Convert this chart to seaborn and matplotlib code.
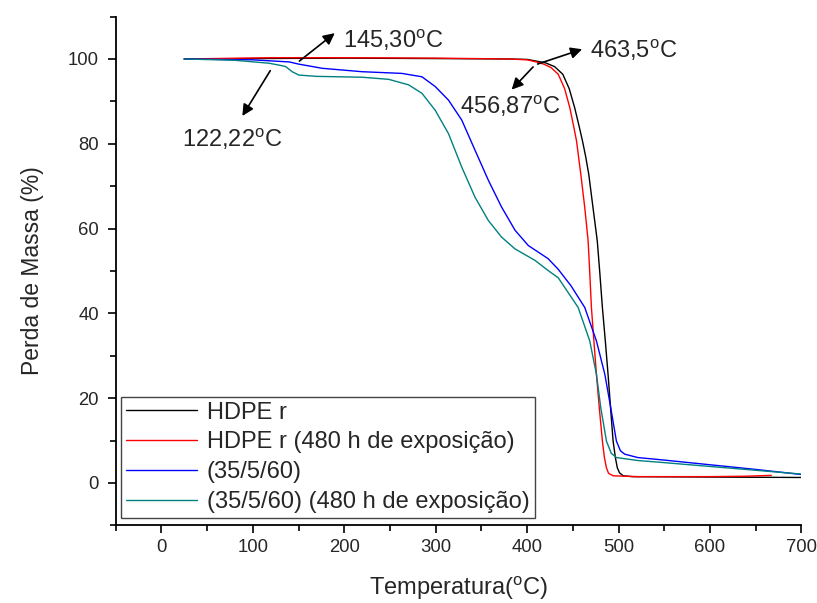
import numpy as np
import pandas as pd
import seaborn as sns
import matplotlib.pyplot as plt
from matplotlib.ticker import MultipleLocator

# TGA curves
temp_hdpe = [25, 100, 200, 300, 380, 400, 410, 420, 430, 439, 446, 452, 457, 460.5, 464, 467.4, 472, 476.7, 479.5, 482.3, 485.5, 488.5, 491.5, 494, 496.5, 498.6, 501, 505, 515, 600, 700]
mass_hdpe = [100.0, 100.1, 100.2, 100.1, 100.0, 99.9, 99.5, 99.1, 98.2, 96.4, 93.0, 88.5, 84.0, 80.7, 77.0, 72.8, 65.0, 57.1, 49.5, 41.4, 33.5, 25.6, 17.0, 9.9, 6.0, 3.6, 2.4, 1.7, 1.5, 1.4, 1.3]

temp_hdpe_exp = [25, 120, 200, 300, 380, 400, 410, 418, 426, 434, 441, 446.7, 451, 454, 458.7, 463, 466.7, 468.5, 470.3, 473, 475.8, 479, 482.3, 484.5, 486.7, 489, 494, 520, 600, 640, 667]
mass_hdpe_exp = [100.0, 100.3, 100.3, 100.2, 100.0, 99.8, 99.3, 98.8, 98.0, 96.4, 93.0, 88.5, 84.0, 80.7, 72.8, 65.0, 57.1, 49.5, 41.4, 33.5, 25.6, 17.5, 9.9, 6.0, 3.6, 2.3, 1.7, 1.5, 1.5, 1.6, 1.8]

temp_blend = [25, 100, 140, 150, 176, 219.5, 263, 285, 299.5, 314, 328.5, 343, 357.6, 372, 386.8, 401.3, 423, 434, 448, 463, 475.8, 485, 491.4, 497.6, 502, 506.7, 521, 550, 600, 650, 700]
mass_blend = [100.0, 99.8, 99.3, 98.8, 97.8, 97.0, 96.6, 95.8, 93.5, 90.3, 85.6, 78.5, 71.4, 65.1, 59.6, 56.0, 52.9, 50.4, 46.5, 41.4, 33.5, 25.6, 17.8, 9.9, 7.6, 6.8, 6.0, 5.4, 4.3, 3.2, 2.0]

temp_blend_exp = [25, 80, 117.8, 130, 136, 143, 150.5, 170, 219.5, 248.6, 270.4, 285, 299.5, 314, 328.5, 343, 357.6, 372, 386.8, 408.6, 423, 434, 455.8, 468.5, 475.8, 480.5, 486.7, 492, 497.6, 521, 550, 600, 650, 700]
mass_blend_exp = [100.0, 99.7, 99.0, 98.5, 98.2, 97.0, 96.2, 95.9, 95.7, 95.2, 93.9, 91.9, 87.9, 82.4, 74.5, 67.4, 61.9, 58.0, 55.2, 52.5, 50.1, 48.4, 41.4, 33.5, 25.6, 17.8, 9.9, 7.0, 6.0, 5.3, 4.8, 3.9, 3.0, 2.1]

labels = ['HDPE r', 'HDPE r (480 h de exposição)', '(35/5/60)', '(35/5/60) (480 h de exposição)']
colors = ['#000000', '#ff0000', '#0000ff', '#008080']

frames = []
for lab, t, m in zip(labels,
                     [temp_hdpe, temp_hdpe_exp, temp_blend, temp_blend_exp],
                     [mass_hdpe, mass_hdpe_exp, mass_blend, mass_blend_exp]):
    frames.append(pd.DataFrame({'temp': t, 'mass': m, 'amostra': lab}))
df = pd.concat(frames, ignore_index=True)

sns.set_style('ticks')
plt.rcParams['font.family'] = ['Liberation Sans', 'DejaVu Sans']
plt.rcParams['mathtext.fontset'] = 'custom'
plt.rcParams['mathtext.rm'] = 'Liberation Sans'

fig, ax = plt.subplots(figsize=(8.17, 6.03), dpi=100)
fig.subplots_adjust(left=0.1415, right=0.981, top=0.9725, bottom=0.1287)

sns.lineplot(data=df, x='temp', y='mass', hue='amostra', hue_order=labels,
             palette=colors, linewidth=1.0, sort=False, estimator=None, ax=ax)

ax.set_xlim(-50, 700)
ax.set_ylim(-10, 110)
ax.xaxis.set_major_locator(MultipleLocator(100))
ax.xaxis.set_minor_locator(MultipleLocator(50))
ax.yaxis.set_major_locator(MultipleLocator(20))
ax.yaxis.set_minor_locator(MultipleLocator(10))
ax.tick_params(which='major', direction='out', length=6, width=1.2, labelsize=13.3, color='black')
ax.tick_params(which='minor', direction='out', length=4, width=1.2, color='black')
ax.tick_params(axis='x', which='major', pad=4)
ax.tick_params(axis='y', which='major', pad=6)
sns.despine(ax=ax)
for s in ['left', 'bottom']:
    ax.spines[s].set_linewidth(1.3)
    ax.spines[s].set_color('black')

ax.set_xlabel(r'Temperatura($^{\mathrm{o}}$C)', fontsize=17, labelpad=13)
ax.set_ylabel('Perda de Massa (%)', fontsize=16.5, labelpad=17)

leg = ax.legend(loc='lower left', bbox_to_anchor=(0.008, 0.014), fontsize=17,
                frameon=True, fancybox=False, edgecolor='#444444', framealpha=1,
                handlelength=3.0, labelspacing=0.33, borderpad=0.22, handletextpad=0.4,
                borderaxespad=0)
leg.get_frame().set_linewidth(1.0)

arrow = dict(arrowstyle='-|>', color='black', lw=1.2, mutation_scale=17)
ax.annotate('', xy=(192, 106.5), xytext=(148.6, 99.1), arrowprops=arrow)
ax.annotate('', xy=(87, 86), xytext=(120.7, 97.8), arrowprops=arrow)
ax.annotate('', xy=(463, 102.5), xytext=(408.6, 98.6), arrowprops=arrow)
ax.annotate('', xy=(381, 92.3), xytext=(408.6, 98.6), arrowprops=arrow)

tfs = 17
ax.text(199, 104.5, r'145,30$^{\mathrm{o}}$C', fontsize=tfs, va='center')
ax.text(23, 81, r'122,22$^{\mathrm{o}}$C', fontsize=tfs, va='center')
ax.text(469, 102, r'463,5$^{\mathrm{o}}$C', fontsize=tfs, va='center')
ax.text(327, 89, r'456,87$^{\mathrm{o}}$C', fontsize=tfs, va='center')

fig.savefig('out.png', dpi=100)
